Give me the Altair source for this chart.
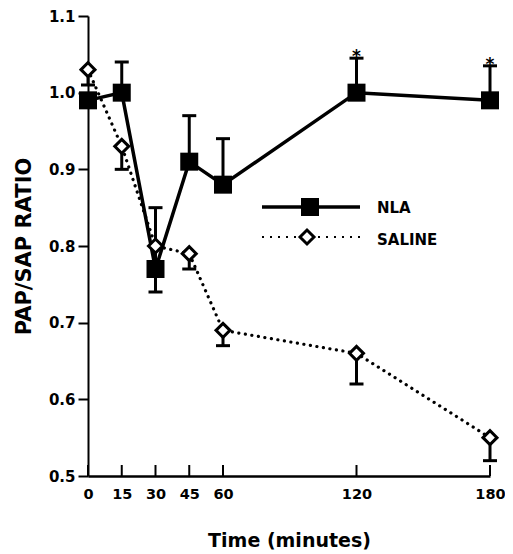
import altair as alt
import pandas as pd

# ---- data ----
times = [0, 15, 30, 45, 60, 120, 180]
nla_ratio = [0.99, 1.00, 0.77, 0.91, 0.88, 1.00, 0.99]
nla_err_high = [None, 1.04, 0.85, 0.97, 0.94, 1.045, 1.035]
nla_err_low = [None, None, 0.74, None, None, None, None]
saline_ratio = [1.03, 0.93, 0.80, 0.79, 0.69, 0.66, 0.55]
saline_err_low = [1.01, 0.90, None, 0.77, 0.67, 0.62, 0.52]
significant = ["", "", "", "", "", "*", "*"]
series = ["NLA", "SALINE"]
x_ticks = [0, 15, 30, 45, 60, 120, 180]
y_ticks = [0.5, 0.6, 0.7, 0.8, 0.9, 1.0, 1.1]

FONT = "DejaVu Sans"
W, H = 402, 460

nla_df = pd.DataFrame({"time": times, "ratio": nla_ratio, "series": "NLA"})
sal_df = pd.DataFrame({"time": times, "ratio": saline_ratio, "series": "SALINE"})

err_rows = []
for t, v, hi, lo in zip(times, nla_ratio, nla_err_high, nla_err_low):
    if hi is not None:
        err_rows.append({"time": t, "start": v, "end": hi})
    if lo is not None:
        err_rows.append({"time": t, "start": v, "end": lo})
for t, v, lo in zip(times, saline_ratio, saline_err_low):
    if lo is not None:
        err_rows.append({"time": t, "start": v, "end": lo})
err_df = pd.DataFrame(err_rows)

star_df = pd.DataFrame(
    [{"time": t, "end": hi, "mark": s} for t, hi, s in zip(times, nla_err_high, significant) if s]
)
tick_df = pd.DataFrame({"tick": x_ticks})

# the time axis is stretched for the first hour (piecewise-linear scale)
xscale = alt.Scale(domain=[0, 60, 180], range=[0, 135, W], nice=False, zero=False)
yscale = alt.Scale(domain=[0.5, 1.1], nice=False, zero=False)

xaxis = alt.Axis(
    values=x_ticks, tickSize=0, labelPadding=11, labelFontSize=14.5, labelFlush=False,
    domainWidth=2.5, title="Time (minutes)", titleFontSize=19,
    titleX=W / 2, titleY=64, titleAlign="center", titleBaseline="middle",
)
yaxis = alt.Axis(
    values=y_ticks, format=".1f", tickSize=10, tickWidth=2, labelPadding=3,
    labelFontSize=15, labelFlush=False, domainWidth=2, title="PAP/SAP RATIO",
    titleFontSize=21, titleX=-64, titleY=H / 2, titleAngle=-90, titleAlign="center",
    titleBaseline="middle",
)


def X(field):
    return alt.X(field, type="quantitative", scale=xscale, axis=xaxis)


def Y(field):
    return alt.Y(field, type="quantitative", scale=yscale, axis=yaxis)


x_tick_marks = alt.Chart(tick_df).mark_rule(color="black", strokeWidth=2).encode(
    x=X("tick"), y=alt.value(H), y2=alt.value(H - 11)
)

nla_line = alt.Chart(nla_df).mark_line(color="black", strokeWidth=3.5).encode(
    x=X("time"), y=Y("ratio")
)
sal_line = alt.Chart(sal_df).mark_line(
    color="black", strokeWidth=3.2, strokeDash=[0.1, 6.5], strokeCap="round"
).encode(x=X("time"), y=Y("ratio"))

err_rule = alt.Chart(err_df).mark_rule(color="black", strokeWidth=3).encode(
    x=X("time"), y=Y("start"), y2="end"
)
err_cap = alt.Chart(err_df).mark_point(
    shape="M-1,0L1,0", size=196, strokeWidth=3, filled=False, color="black", opacity=1
).encode(x=X("time"), y=Y("end"))

stars = alt.Chart(star_df).mark_text(
    font=FONT, fontSize=17, fontWeight="bold", baseline="alphabetic", dy=4, color="black"
).encode(x=X("time"), y=Y("end"), text="mark:N")

nla_pts = alt.Chart(nla_df).mark_point(
    shape="square", size=324, filled=True, color="black", opacity=1
).encode(x=X("time"), y=Y("ratio"))
sal_pts = alt.Chart(sal_df).mark_point(
    shape="diamond", size=196, filled=True, fill="white", stroke="black",
    strokeWidth=3, opacity=1
).encode(x=X("time"), y=Y("ratio"))

# ---- legend (drawn inside the plot) ----
leg_nla = pd.DataFrame({"series": [series[0]]})
leg_sal = pd.DataFrame({"series": [series[1]]})
lx1, lx2, ltx = 174, 272, 289
ly_nla, ly_sal = 191, 221

leg_nla_line = alt.Chart(leg_nla).mark_rule(color="black", strokeWidth=3.5).encode(
    x=alt.value(lx1), x2=alt.value(lx2), y=alt.value(ly_nla)
)
leg_nla_pt = alt.Chart(leg_nla).mark_point(
    shape="square", size=324, filled=True, color="black", opacity=1
).encode(x=alt.value(222), y=alt.value(ly_nla))
leg_nla_txt = alt.Chart(leg_nla).mark_text(
    font=FONT, fontSize=15, fontWeight="bold", align="left", baseline="middle", color="black"
).encode(x=alt.value(ltx), y=alt.value(ly_nla + 1), text="series:N")

leg_sal_line = alt.Chart(leg_sal).mark_rule(
    color="black", strokeWidth=2, strokeDash=[2, 6]
).encode(x=alt.value(lx1), x2=alt.value(lx2), y=alt.value(ly_sal))
leg_sal_pt = alt.Chart(leg_sal).mark_point(
    shape="diamond", size=196, filled=True, fill="white", stroke="black",
    strokeWidth=3, opacity=1
).encode(x=alt.value(219), y=alt.value(ly_sal))
leg_sal_txt = alt.Chart(leg_sal).mark_text(
    font=FONT, fontSize=15, fontWeight="bold", align="left", baseline="middle", color="black"
).encode(x=alt.value(ltx), y=alt.value(ly_sal + 3), text="series:N")

chart = alt.layer(
    x_tick_marks, nla_line, sal_line, err_rule, err_cap, stars, nla_pts, sal_pts,
    leg_nla_line, leg_nla_pt, leg_nla_txt, leg_sal_line, leg_sal_pt, leg_sal_txt,
).properties(
    width=W, height=H, autosize="none",
    padding={"left": 80, "top": 8, "right": 15, "bottom": 76},
).configure_view(strokeWidth=0).configure_axis(
    grid=False, domainColor="black", tickColor="black", labelColor="black",
    titleColor="black", labelFont=FONT, titleFont=FONT, labelFontWeight="bold",
    titleFontWeight="bold",
)

chart.save("out.html", embed_options={"renderer": "svg", "actions": False})
